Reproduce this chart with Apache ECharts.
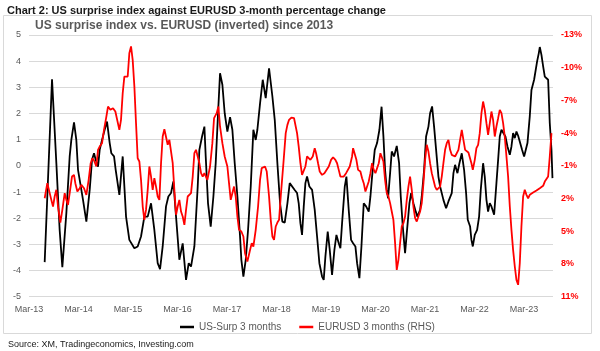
<!DOCTYPE html>
<html>
<head>
<meta charset="utf-8">
<script src="https://cdn.jsdelivr.net/npm/echarts@6/dist/echarts.min.js"></script>
<style>html,body{margin:0;padding:0;background:#fff}#c{width:600px;height:351px}</style>
</head>
<body>
<div id="c"></div>
<script>
// x values are months since March 2013
const xTickLabels = ['Mar-13','Mar-14','Mar-15','Mar-16','Mar-17','Mar-18','Mar-19','Mar-20','Mar-21','Mar-22','Mar-23'];
const lhsTicks = [-5,-4,-3,-2,-1,0,1,2,3,4,5];
const rhsTickLabels = [-13,-10,-7,-4,-1,2,5,8,11];

const usSurpMonths = [3.8,5.58,6.63,7.43,8.08,9.05,9.86,10.26,10.91,11.47,11.88,12.69,13.09,13.9,14.71,15.27,15.76,16.16,16.73,17.13,17.7,18.34,18.91,19.56,19.96,20.61,21.01,21.9,22.71,23.52,24.32,25.54,26.34,27.15,27.96,28.77,29.58,30.38,31.19,31.76,32.4,33.21,33.78,34.42,34.99,35.64,36.44,37.25,38.06,38.71,39.27,40.08,40.89,41.29,41.94,42.51,42.83,43.39,44.04,44.69,45.25,45.82,46.3,46.87,47.43,48.08,48.73,49.29,49.86,50.51,51.15,51.47,51.96,52.53,53.09,53.74,54.38,54.95,55.35,56.0,56.65,57.37,58.18,58.99,59.56,60.2,60.85,61.41,61.98,62.63,63.19,63.6,64.4,64.97,65.37,65.78,66.18,66.59,66.99,67.39,67.96,68.61,69.25,69.82,70.38,71.03,71.43,71.84,72.4,72.89,73.45,74.02,74.51,75.07,75.47,75.88,76.53,76.93,77.49,78.06,78.55,79.11,79.52,80.08,80.57,81.13,81.7,82.34,82.75,83.15,83.8,84.36,84.93,85.45,85.9,86.3,86.71,87.03,87.52,87.92,88.48,89.13,89.7,90.1,90.59,91.15,91.56,92.2,92.61,93.17,93.74,94.14,94.79,95.19,95.76,96.24,96.81,97.21,97.7,98.18,98.67,99.23,99.64,100.04,100.44,101.09,101.66,102.06,102.46,102.87,103.27,103.84,104.32,104.89,105.45,105.94,106.34,106.91,107.23,107.56,108.04,108.61,109.09,109.49,110.06,110.46,110.87,111.27,111.68,112.08,112.73,113.29,113.7,114.1,114.51,114.91,115.47,115.96,116.53,116.93,117.33,117.74,118.14,118.55,118.95,119.52,120.0,120.4,120.81,121.37,121.78,122.42,122.83,123.15,123.56,123.8,124.2,124.61,125.01,125.41,125.82,126.22,126.63,126.87];
const usSurpValues = [-3.68,3.31,0.10,-2.45,-3.87,-1.81,0.36,0.99,1.66,0.99,-0.15,-0.92,-1.30,-2.13,-0.92,0.23,0.48,0.23,-0.03,0.61,0.99,1.38,1.69,0.87,0.48,0.36,-0.15,-1.11,0.36,-1.94,-2.83,-3.15,-3.08,-2.70,-1.94,-1.94,-1.43,-2.45,-3.72,-3.95,-3.08,-1.55,-1.17,-1.04,-0.60,-1.94,-3.59,-2.96,-4.36,-3.72,-3.85,-3.08,-0.79,0.61,1.12,1.50,0.36,-1.43,-2.32,-1.17,0.10,2.01,3.54,3.10,2.01,1.31,1.86,1.38,0.10,-1.17,-2.70,-3.59,-4.23,-3.59,-2.45,-0.79,1.38,0.99,1.38,2.39,3.29,2.59,3.73,2.65,1.76,0.10,-1.43,-2.13,-2.17,-1.43,-0.66,-0.73,-0.92,-1.04,-1.43,-2.19,-2.64,-1.55,-0.66,-0.41,-0.79,-0.92,-1.68,-2.70,-3.72,-4.23,-4.36,-3.46,-2.51,-3.21,-4.17,-3.21,-2.64,-2.96,-3.15,-2.19,-0.79,-0.41,-1.68,-2.83,-2.96,-3.08,-3.72,-4.29,-3.08,-1.43,-1.55,-1.75,-1.17,-0.41,0.61,0.87,1.38,2.26,1.12,-0.15,-0.92,-1.24,-0.28,0.55,0.36,0.76,0.10,-1.17,-2.32,-3.34,-2.57,-1.43,-1.04,-1.43,-1.75,-1.94,-1.68,-1.17,-0.15,1.12,1.50,2.01,2.27,1.50,0.61,-0.41,-0.79,-0.73,-1.30,-1.62,-1.36,-1.30,-1.04,-0.28,0.04,-0.28,0.10,0.48,-0.15,-1.04,-2.06,-2.32,-2.83,-3.08,-2.64,-2.45,-1.94,-0.92,0.10,-0.41,-1.30,-1.75,-1.43,-1.55,-1.87,-0.66,0.23,1.12,1.38,1.44,1.12,0.74,0.42,0.74,1.25,1.06,1.31,1.15,1.12,0.61,0.36,0.36,0.87,1.89,2.90,3.29,3.31,3.99,4.31,4.54,4.24,3.80,3.41,3.41,3.29,1.63,0.61,-0.47];

const eurMonths = [3.8,4.44,4.85,5.41,5.82,6.22,6.63,7.03,7.6,8.08,8.65,9.05,9.45,9.86,10.42,10.91,11.23,11.72,12.28,12.69,13.33,13.9,14.46,14.95,15.35,15.76,16.32,16.73,17.13,17.7,18.18,18.75,19.15,19.72,20.36,20.93,21.9,22.3,22.71,23.11,23.52,23.92,24.32,24.73,25.13,25.54,25.94,26.34,26.75,27.15,27.56,27.96,28.36,28.77,29.17,29.58,29.98,30.38,30.79,31.19,31.6,32.0,32.4,32.81,33.21,33.62,34.02,34.42,34.83,35.23,35.64,36.04,36.44,36.85,37.25,37.66,38.06,38.46,38.87,39.27,39.68,40.08,40.48,40.89,41.29,41.7,42.1,42.51,43.23,43.88,44.44,44.85,45.49,45.9,46.3,46.87,47.43,48.08,48.48,48.89,49.29,49.7,50.1,50.51,50.91,51.47,51.96,52.36,52.93,53.49,53.98,54.38,54.95,55.52,56.0,56.4,56.81,57.21,57.62,58.18,58.59,58.99,59.39,59.8,60.2,60.61,61.01,61.66,62.22,62.63,63.03,63.6,64.24,64.97,65.37,65.78,66.18,66.59,66.99,67.39,67.8,68.2,68.77,69.25,69.58,70.06,70.46,71.03,71.6,72.08,72.65,73.21,73.7,74.26,74.67,75.07,75.47,75.88,76.28,76.85,77.33,77.74,78.3,78.55,78.95,79.35,79.76,80.32,80.73,81.13,81.54,81.94,82.34,82.75,83.15,83.56,83.96,84.36,84.77,85.17,85.58,85.9,86.3,86.71,87.11,87.52,87.92,88.32,88.73,89.13,89.54,89.94,90.34,90.75,91.15,91.56,91.96,92.36,92.77,93.17,93.58,93.98,94.38,94.79,95.19,95.6,96.0,96.4,96.81,97.21,97.62,98.02,98.42,98.83,99.23,99.64,100.04,100.44,100.85,101.25,101.66,102.06,102.46,102.87,103.27,103.68,104.08,104.48,104.89,105.29,105.7,106.1,106.5,107.23,107.56,108.04,108.44,108.85,109.25,109.66,110.06,110.46,110.87,111.27,111.68,112.08,112.48,112.89,113.29,113.7,114.1,114.51,114.91,115.31,115.72,116.12,116.53,116.93,117.33,117.74,118.14,118.55,118.95,119.35,119.76,120.16,120.57,120.97,121.37,121.78,122.18,122.59,122.99,123.39,123.8,124.2,124.61,125.01,125.41,125.82,126.22,126.63];
const eurValues = [1.97,0.59,0.44,2.12,2.73,1.81,1.20,2.73,4.20,3.04,1.51,2.12,2.58,1.51,-0.02,-0.17,0.59,1.35,1.05,0.74,1.05,1.66,0.28,-1.24,-1.70,-1.49,-0.94,-2.47,-2.77,-3.08,-4.30,-5.52,-6.44,-6.14,-6.29,-5.98,-4.30,-5.22,-7.66,-9.19,-9.35,-9.19,-11.33,-11.95,-10.72,-8.28,-4.91,-1.70,-1.40,0.28,2.73,3.95,3.04,1.20,-0.94,-0.02,1.20,0.13,0.90,1.81,2.12,-1.24,-3.69,-4.36,-4.30,-2.93,-3.38,-3.23,-1.24,1.20,3.49,2.73,2.12,3.19,3.65,4.41,3.04,1.81,1.66,1.51,-0.02,-2.16,-2.47,-2.31,-1.24,-0.33,-0.02,-0.33,0.28,-0.94,-3.08,-5.37,-5.83,-6.44,-4.61,-3.08,-1.86,-0.94,0.59,2.12,1.51,0.90,1.81,3.65,4.87,5.02,5.48,7.01,7.77,6.86,6.09,6.40,4.87,2.73,0.28,-0.79,-0.63,-0.94,-0.48,1.81,3.95,5.48,5.79,4.56,4.20,3.95,1.81,-1.24,-4.00,-4.76,-5.22,-5.43,-5.37,-4.00,-2.77,-1.24,-0.17,-0.33,-0.94,-1.86,-1.70,-1.55,-1.86,-2.62,-2.16,-1.24,-0.48,-0.17,-0.33,-0.27,-0.94,-1.55,-1.79,-1.55,-1.24,-0.63,-0.02,0.13,-0.02,-0.33,-0.48,-0.94,-1.86,-2.62,-2.62,-1.55,-0.63,-0.48,0.13,0.59,1.35,1.42,0.44,-0.33,-1.24,-0.63,-0.33,-0.48,-1.24,-2.16,-2.10,-1.40,0.28,1.51,1.81,2.42,3.19,3.95,6.09,8.54,7.62,6.09,4.56,4.26,3.65,2.12,0.90,-0.02,1.20,2.73,3.80,4.11,3.65,3.19,2.42,0.59,-1.55,-2.93,-2.31,-1.24,-0.33,0.28,0.90,1.20,1.20,0.90,-0.02,-1.24,-2.47,-3.08,-3.38,-2.47,-2.01,-1.92,-1.86,-1.86,-2.47,-3.38,-4.30,-3.38,-2.47,-2.31,-2.22,-1.24,-0.63,-1.55,-2.62,-2.93,-4.00,-5.83,-6.90,-6.14,-4.91,-3.84,-4.91,-5.98,-5.22,-3.69,-4.61,-5.37,-6.14,-5.83,-4.91,-3.69,-1.86,-0.02,2.73,4.87,6.70,8.23,9.46,9.91,7.93,4.56,1.81,1.20,1.66,1.97,1.66,1.51,1.45,1.35,1.26,1.14,1.05,0.90,0.83,0.44,0.59,-0.02,-1.86,-4.00];

const FONT = '"Liberation Sans", Arial, sans-serif';
const chart = echarts.init(document.getElementById('c'), null, {renderer: 'canvas'});
chart.setOption({
  animation: false,
  color: ['#000000', '#ff0000'],
  textStyle: {fontFamily: FONT},
  title: [
    {text: 'Chart 2: US surprise index against EURUSD 3-month percentage change', left: 2, top: 0,
     textStyle: {fontSize: 11, fontWeight: 'bold', color: '#1a1a1a', fontFamily: FONT}},
    {text: 'US surprise index vs. EURUSD (inverted) since 2013', left: 30, top: 15,
     textStyle: {fontSize: 12, fontWeight: 'bold', color: '#595959', fontFamily: FONT}},
    {text: 'Source: XM, Tradingeconomics, Investing.com', left: 3, top: 335,
     textStyle: {fontSize: 9, fontWeight: 'normal', color: '#1a1a1a', fontFamily: FONT}}
  ],
  graphic: [
    {type: 'rect', silent: true, z: -10, shape: {x: 3.5, y: 15.5, width: 588, height: 318},
     style: {fill: 'none', stroke: '#d9d9d9', lineWidth: 1}}
  ],
  legend: {
    data: ['US-Surp 3 months', 'EURUSD 3 months (RHS)'],
    left: 175, top: 317, icon: 'rect', itemWidth: 14, itemHeight: 2.5, itemGap: 18,
    textStyle: {color: '#595959', fontSize: 10, fontFamily: FONT}
  },
  grid: {left: 29, right: 47, top: 35, bottom: 54.3},
  xAxis: {
    type: 'value', min: 0, max: 127, interval: 12,
    axisLine: {show: false}, axisTick: {show: false}, splitLine: {show: false},
    axisLabel: {color: '#595959', fontSize: 9, margin: 8, showMaxLabel: false,
      formatter: v => (v % 12 === 0 && xTickLabels[v / 12]) ? xTickLabels[v / 12] : ''}
  },
  yAxis: [
    {type: 'value', min: lhsTicks[0], max: lhsTicks[lhsTicks.length - 1], interval: 1, position: 'left',
     axisLine: {show: false}, axisTick: {show: false},
     splitLine: {lineStyle: {color: '#d9d9d9', width: 1}},
     axisLabel: {color: '#595959', fontSize: 9, margin: 8}},
    {type: 'value', min: rhsTickLabels[0], max: rhsTickLabels[rhsTickLabels.length - 1], interval: 1,
     inverse: true, position: 'right',
     axisLine: {show: false}, axisTick: {show: false}, splitLine: {show: false},
     axisLabel: {color: '#ff0000', fontSize: 9, fontWeight: 'bold', margin: 8,
       formatter: v => rhsTickLabels.indexOf(v) >= 0 ? v + '%' : ''}}
  ],
  series: [
    {name: 'US-Surp 3 months', type: 'line', yAxisIndex: 0, symbol: 'none', z: 2,
     lineStyle: {color: '#000000', width: 1.8}, itemStyle: {color: '#000000'},
     data: usSurpMonths.map((m, i) => [m, usSurpValues[i]])},
    {name: 'EURUSD 3 months (RHS)', type: 'line', yAxisIndex: 1, symbol: 'none', z: 3,
     lineStyle: {color: '#ff0000', width: 1.8}, itemStyle: {color: '#ff0000'},
     data: eurMonths.map((m, i) => [m, eurValues[i]])}
  ]
});
</script>
</body>
</html>
